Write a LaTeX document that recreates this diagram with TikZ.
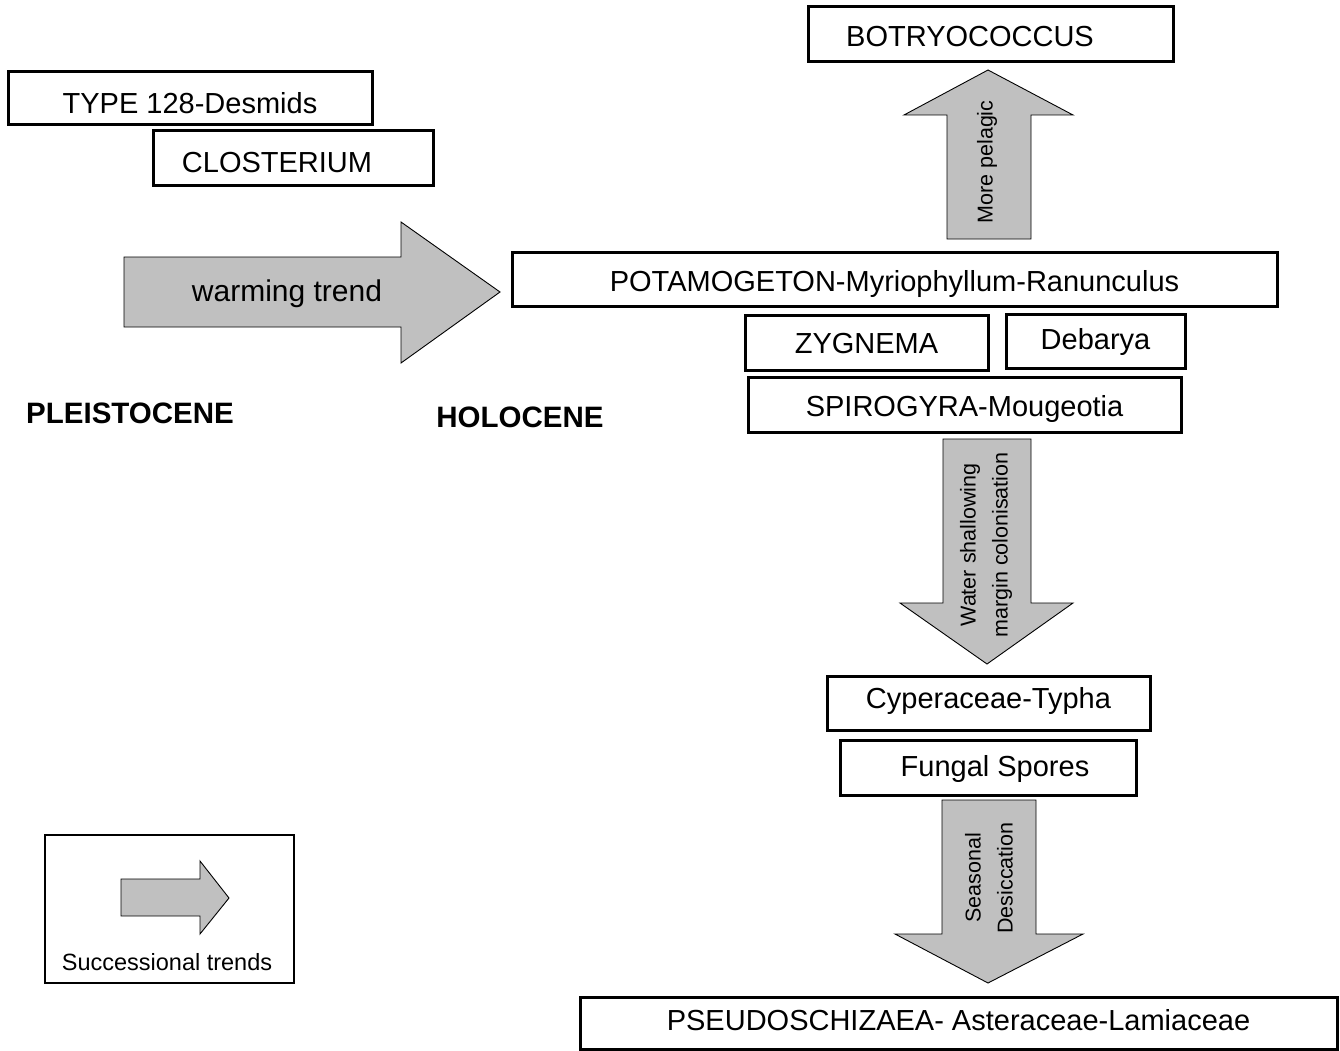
\documentclass[tikz,border=0pt]{standalone}
\usepackage{fontspec}
\setmainfont{Liberation Sans}
\definecolor{trendgray}{RGB}{192,192,192}

\begin{document}
\begin{tikzpicture}[x=1pt,y=-1pt,
    taxon/.style={draw,line width=3pt,inner sep=0pt,font=\fontsize{29}{35}\selectfont,
                  text height=24.8pt,text depth=0pt},
    trend/.style={draw=black,line width=0.9pt,fill=trendgray,line join=miter},
    trendtext/.style={rotate=90,align=center,font=\fontsize{21.5}{32}\selectfont},
    epoch/.style={font=\fontsize{29.5}{35}\selectfont\bfseries}]
  \useasboundingbox (0,0) rectangle (1340,1051);

  % pleistocene side
  \node[taxon,minimum width=364pt,minimum height=53pt,text height=29.8pt] (type128) at (190,98.5) {TYPE 128-Desmids};
  \node[taxon,minimum width=280pt,minimum height=55pt,text height=27.8pt] (closterium) at (293,158.5) {CLOSTERIUM\hspace*{32pt}};
  \draw[trend] (124,257) -- (401,257) -- (401,222) -- (500,292) -- (401,363) -- (401,327) -- (124,327) -- cycle;
  \node[font=\fontsize{30}{36}\selectfont] (warming) at (287,294) {warming trend};
  \node[epoch] (pleistocene) at (130,413) {PLEISTOCENE};
  \node[epoch] (holocene) at (520,417) {HOLOCENE};

  % holocene succession
  \node[taxon,minimum width=365pt,minimum height=55pt] (botryo) at (990.5,34.5) {BOTRYOCOCCUS\hspace*{41pt}};
  \draw[trend] (947,239) -- (947,115) -- (904,115) -- (988,70) -- (1073,115) -- (1031,115) -- (1031,239) -- cycle;
  \node[trendtext] (pelagic) at (987,162) {More pelagic};
  \node[taxon,minimum width=765pt,minimum height=54pt,text height=25.8pt] (potamo) at (894.5,279) {POTAMOGETON-Myriophyllum-Ranunculus};
  \node[taxon,minimum width=243pt,minimum height=55pt,text height=22.8pt] (zygnema) at (866.5,342.5) {ZYGNEMA};
  \node[taxon,minimum width=179pt,minimum height=54pt,text height=17.8pt] (debarya) at (1095.5,341) {Debarya};
  \node[taxon,minimum width=433pt,minimum height=55pt,text height=23.8pt] (spirogyra) at (964.5,404.5) {SPIROGYRA-Mougeotia};
  \draw[trend] (943,439) -- (1031,439) -- (1031,603) -- (1073,603) -- (987,664) -- (900,603) -- (943,603) -- cycle;
  \node[trendtext] (shallowing) at (986,545) {Water shallowing\\margin colonisation};
  \node[taxon,minimum width=323pt,minimum height=54pt,text height=11.8pt] (cyperaceae) at (988.5,703) {Cyperaceae-Typha};
  \node[taxon,minimum width=296pt,minimum height=55pt,text height=18.8pt] (fungal) at (988,767.5) {\hspace*{14pt}Fungal Spores};
  \draw[trend] (942,800) -- (1036,800) -- (1036,934) -- (1083,934) -- (988,983) -- (895,934) -- (942,934) -- cycle;
  \node[trendtext] (desiccation) at (989,878) {Seasonal\\Desiccation};
  \node[taxon,minimum width=757pt,minimum height=52pt,text height=15.8pt] (pseudo) at (958.5,1023) {PSEUDOSCHIZAEA- Asteraceae-Lamiaceae};

  % legend
  \draw[line width=1.5pt] (45,835) rectangle (294,983);
  \draw[trend] (121,879) -- (200,879) -- (200,861) -- (229,898) -- (200,934) -- (200,916) -- (121,916) -- cycle;
  \node[font=\fontsize{23.5}{28}\selectfont] (legendtext) at (167,962) {Successional trends};
\end{tikzpicture}
\end{document}
